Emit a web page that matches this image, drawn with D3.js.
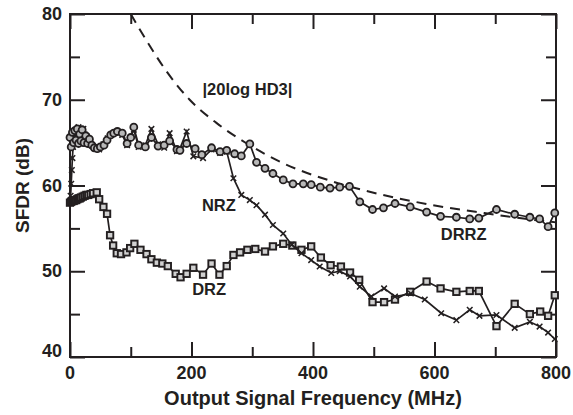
<!DOCTYPE html>
<html lang="en">
<head>
<meta charset="UTF-8">
<title>SFDR vs output frequency</title>
<script src="https://d3js.org/d3.v7.min.js"></script>
<style>
    body { margin: 0; background: #fff; }
    text { font-family: "Liberation Sans", Arial, sans-serif; font-weight: bold; fill: #231f20; }
</style>
</head>
<body>
<div id="chart"></div>
<script>
    // data: [frequency MHz, SFDR dB]
    const drrz = [[0,65.6],[2,64.5],[4,66.2],[6,65.0],[8,66.4],[10,65.3],[12,66.6],[14,64.9],[16,66.0],[18,65.2],[20,66.5],[23,65.0],[26,65.8],[29,64.9],[32,65.4],[36,64.7],[40,64.4],[45,64.3],[50,64.5],[56,64.7],[61,65.3],[67,65.9],[72,66.1],[78,66.3],[86,66.1],[94,64.9],[100,65.6],[105,66.8],[113,64.7],[124,64.5],[134,65.6],[145,64.6],[155,64.7],[164,65.2],[176,64.2],[181,64.1],[192,64.9],[206,64.3],[217,63.6],[233,64.4],[247,63.95],[258,64.1],[271,63.7],[282,63.45],[296,64.85],[307,62.7],[321,62.0],[334,61.4],[351,60.65],[367,60.2],[384,60.2],[397,60.1],[412,59.8],[428,59.7],[444,59.8],[460,59.9],[477,58.1],[498,57.2],[516,57.4],[535,57.9],[560,57.5],[587,56.9],[610,56.4],[636,56.3],[658,56.1],[673,56.2],[702,57.2],[732,56.65],[757,56.3],[773,56.1],[787,55.2],[798,56.8]];

    const nrz = [[1,58.8],[2,60.2],[3,61.8],[4,63.2],[5,64.5],[6,65.8],[8,64.9],[10,66.4],[12,65.1],[14,66.8],[16,64.9],[18,66.3],[20,65.2],[22,66.6],[25,64.9],[28,65.7],[32,65.1],[36,64.7],[42,64.4],[48,64.2],[55,64.8],[62,65.5],[70,66.0],[78,66.3],[86,65.9],[94,64.7],[105,66.5],[113,64.5],[124,64.7],[134,66.6],[145,64.8],[155,64.4],[164,66.1],[176,64.0],[181,64.3],[192,66.3],[203,63.4],[219,63.2],[233,64.2],[247,63.8],[258,63.95],[269,60.85],[282,58.9],[296,58.3],[307,57.7],[321,56.6],[334,55.4],[351,54.4],[365,53.1],[381,52.1],[397,51.3],[411,50.55],[430,49.8],[444,50.0],[461,49.4],[477,48.2],[496,47.05],[517,48.0],[535,47.05],[561,47.4],[584,46.7],[611,45.1],[636,44.3],[658,45.5],[674,44.8],[702,44.9],[732,43.4],[757,44.1],[773,43.55],[787,42.85],[798,42.1]];

    const drz = [[0,58.0],[2,58.1],[4,58.2],[6,58.2],[8,58.3],[10,58.3],[12,58.4],[14,58.5],[16,58.5],[18,58.6],[21,58.7],[24,58.8],[27,58.9],[30,58.9],[34,59.0],[38,59.1],[44,59.2],[48,58.4],[55,57.5],[61,56.7],[66,54.2],[71,53.0],[77,52.1],[84,52.0],[93,52.2],[99,52.7],[106,53.2],[116,52.5],[126,52.0],[134,51.4],[143,51.0],[152,50.9],[161,50.6],[174,49.7],[182,49.3],[192,49.7],[203,50.4],[219,49.6],[233,50.9],[246,49.6],[258,50.6],[269,51.9],[280,52.2],[292,52.5],[305,52.6],[321,52.3],[334,52.9],[351,53.2],[366,53.0],[381,52.5],[397,52.9],[413,51.6],[429,50.7],[446,50.55],[461,49.85],[476,49.0],[498,46.4],[517,46.4],[535,46.7],[560,47.6],[587,48.8],[610,48.0],[636,47.6],[658,47.7],[673,47.7],[702,43.6],[732,46.2],[757,45.0],[774,45.3],[787,44.8],[798,47.2]];

    const hd3 = [[100,80],[132,76.2],[159,73.3],[197,70],[241,67.3],[291,64.9],[351,62.6],[433,60.45],[515,58.9],[598,57.7],[680,56.8],[762,56.0],[800,55.7]];

    const xTicks = [0, 200, 400, 600, 800];
    const yTicks = [40, 50, 60, 70, 80];

    const W = 573, H = 415;
    const m = {left: 70, right: 17, top: 14, bottom: 58};
    const ink = "#231f20";

    const svg = d3.select("#chart").append("svg")
        .attr("width", W).attr("height", H);

    const x = d3.scaleLinear().domain([0, 800]).range([m.left, W - m.right]);
    const y = d3.scaleLinear().domain([40, 80]).range([H - m.bottom, m.top]);

    // ticks on all four sides, pointing inward
    const minorX = d3.range(100, 800, 200);
    const minorY = d3.range(45, 80, 10);
    function tickAxis(axis, pos, vals, len) {
        const g = svg.append("g").attr("transform", pos)
            .call(axis(vals === "x" ? x : y).tickValues(vals === "x" ? d3.range(0, 801, 100) : d3.range(40, 81, 5))
                .tickFormat("").tickSizeOuter(0));
        g.select(".domain").remove();
        g.selectAll(".tick line")
            .attr("stroke", ink).attr("stroke-width", 2)
            .each(function(d) {
                const minor = vals === "x" ? minorX.includes(d) : minorY.includes(d);
                const l = minor ? 10 : 15;
                const sel = d3.select(this);
                if (vals === "x") sel.attr("y2", len * l); else sel.attr("x2", len * l);
            });
    }
    tickAxis(d3.axisBottom, `translate(0,${y(40)})`, "x", -1);
    tickAxis(d3.axisTop, `translate(0,${y(80)})`, "x", 1);
    tickAxis(d3.axisLeft, `translate(${x(0)},0)`, "y", 1);
    tickAxis(d3.axisRight, `translate(${x(800)},0)`, "y", -1);

    // frame
    svg.append("rect")
        .attr("x", x(0)).attr("y", y(80))
        .attr("width", x(800) - x(0)).attr("height", y(40) - y(80))
        .attr("fill", "none").attr("stroke", ink).attr("stroke-width", 2);

    // tick labels
    svg.selectAll(".xl").data(xTicks).enter().append("text")
        .attr("x", d => x(d)).attr("y", y(40) + 22)
        .attr("text-anchor", "middle").style("font-size", "18px")
        .text(d => d);
    svg.selectAll(".yl").data(yTicks).enter().append("text")
        .attr("x", x(0) - 8).attr("y", d => y(d) + (d === 40 ? 0 : 6))
        .attr("text-anchor", "end").style("font-size", "18px")
        .text(d => d);

    // axis titles
    svg.append("text")
        .attr("x", (x(0) + x(800)) / 2).attr("y", 405)
        .attr("text-anchor", "middle").style("font-size", "20px")
        .text("Output Signal Frequency (MHz)");
    svg.append("text")
        .attr("transform", `translate(29,${(y(40) + y(80)) / 2}) rotate(-90)`)
        .attr("text-anchor", "middle").style("font-size", "19px")
        .text("SFDR (dB)");

    const line = d3.line().x(d => x(d[0])).y(d => y(d[1]));

    // dashed |20log HD3| curve
    svg.append("path")
        .datum(hd3)
        .attr("d", line.curve(d3.curveMonotoneX))
        .attr("fill", "none").attr("stroke", ink)
        .attr("stroke-width", 2).attr("stroke-dasharray", "10,7");
    line.curve(d3.curveLinear);

    function series(data, marker) {
        svg.append("path").datum(data)
            .attr("d", line)
            .attr("fill", "none").attr("stroke", ink).attr("stroke-width", 1.7);
        const g = svg.append("g");
        if (marker === "circle") {
            g.selectAll("circle").data(data).enter().append("circle")
                .attr("cx", d => x(d[0])).attr("cy", d => y(d[1])).attr("r", 3.5)
                .attr("fill", "#b8b8b8").attr("stroke", ink).attr("stroke-width", 1.8);
        } else if (marker === "square") {
            g.selectAll("rect").data(data).enter().append("rect")
                .attr("x", d => x(d[0]) - 3.2).attr("y", d => y(d[1]) - 3.2)
                .attr("width", 6.4).attr("height", 6.4)
                .attr("fill", "#d0d0d0").attr("stroke", ink).attr("stroke-width", 1.9);
        } else {
            g.selectAll("path").data(data).enter().append("path")
                .attr("transform", d => `translate(${x(d[0])},${y(d[1])})`)
                .attr("d", d3.symbol(d3.symbolX, 22))
                .attr("fill", "none").attr("stroke", ink).attr("stroke-width", 1.5);
        }
    }
    series(drz, "square");
    series(nrz, "x");
    series(drrz, "circle");

    // in-plot labels
    const labels = [
        {t: "|20log HD3|", f: 292, v: 70.5},
        {t: "NRZ", f: 245, v: 57.0},
        {t: "DRRZ", f: 648, v: 53.6},
        {t: "DRZ", f: 229, v: 47.2}
    ];
    svg.selectAll(".lab").data(labels).enter().append("text")
        .attr("x", d => x(d.f)).attr("y", d => y(d.v))
        .attr("text-anchor", "middle").style("font-size", "16.5px")
        .text(d => d.t);
</script>
</body>
</html>
